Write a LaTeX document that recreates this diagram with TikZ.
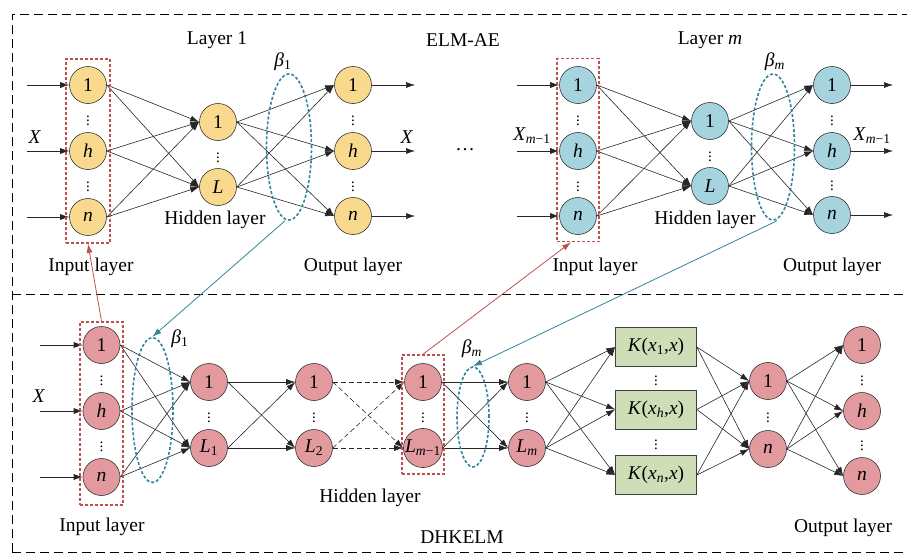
\documentclass[tikz,border=0pt]{standalone}
\usepackage{fontspec}
\setmainfont{Liberation Serif}
\usepackage{tikz}
\usetikzlibrary{arrows.meta,shapes.geometric}
\definecolor{yelfill}{HTML}{F8D98E}
\definecolor{blufill}{HTML}{A6D4DE}
\definecolor{pnkfill}{HTML}{E39A9F}
\definecolor{kfill}{HTML}{D0DEB8}
\definecolor{redd}{HTML}{C0504D}
\definecolor{teall}{HTML}{31859C}
\newcommand{\itl}[1]{\textit{#1}}
\tikzset{
	every node/.style={font=\fontsize{19.5}{22}\selectfont},
	neuron/.style={circle,draw=black!80,line width=0.6pt,minimum size=37pt,inner sep=0pt},
	yel/.style={neuron,fill=yelfill},
	blu/.style={neuron,fill=blufill},
	pnk/.style={neuron,fill=pnkfill},
	kbox/.style={draw=black!75,line width=0.6pt,fill=kfill,minimum width=81pt,minimum height=39pt,inner sep=0pt},
	conn/.style={-{Latex[length=9pt,width=6pt]},line width=0.6pt,draw=black!85},
	dconn/.style={conn,dash pattern=on 5pt off 3pt},
	redbox/.style={draw=redd,dash pattern=on 3pt off 2pt,line width=1.6pt,inner sep=0pt},
	ring/.style={ellipse,draw=teall,dash pattern=on 3pt off 2pt,line width=1.6pt,inner sep=0pt},
	frame/.style={dash pattern=on 9pt off 5pt,line width=1pt},
	vd/.style={font=\fontsize{15}{15}\selectfont,inner sep=0pt},
}

\begin{document}
\begin{tikzpicture}[x=1pt,y=-1pt]
\useasboundingbox (0,0) rectangle (907,554);
% frame
\draw[frame] (12,552) -- (12,14) -- (907,14);
\draw[frame] (12,294) -- (907,294);
\draw[frame] (12,552) -- (907,552);

% ELM-AE, layer 1
\node[yel] (a1) at (88,85) {1};
\node[yel] (ah) at (88,151) {\itl{h}};
\node[yel] (an) at (88,217) {\itl{n}};
\node[yel] (b1) at (218,122) {1};
\node[yel] (bL) at (218,187) {\itl{L}};
\node[yel] (c1) at (353,85) {1};
\node[yel] (ch) at (353,151) {\itl{h}};
\node[yel] (cn) at (353,216) {\itl{n}};
\node[vd] (va1) at (88,118) {$\vdots$};
\node[vd] (va2) at (88,184) {$\vdots$};
\node[vd] (vb) at (218,155) {$\vdots$};
\node[vd] (vc1) at (353,118) {$\vdots$};
\node[vd] (vc2) at (353,184) {$\vdots$};
\coordinate (ia1) at (27,85);
\coordinate (iah) at (27,151);
\coordinate (ian) at (27,217);
\coordinate (oc1) at (415,85);
\coordinate (och) at (415,151);
\coordinate (ocn) at (415,216);
\draw[conn] (ia1) -- (a1.west); \draw[conn] (iah) -- (ah.west); \draw[conn] (ian) -- (an.west);
\draw[conn] (a1.east) -- (b1.west); \draw[conn] (a1.east) -- (bL.west);
\draw[conn] (ah.east) -- (b1.west); \draw[conn] (ah.east) -- (bL.west);
\draw[conn] (an.east) -- (b1.west); \draw[conn] (an.east) -- (bL.west);
\draw[conn] (b1.east) -- (c1.west); \draw[conn] (b1.east) -- (ch.west); \draw[conn] (b1.east) -- (cn.west);
\draw[conn] (bL.east) -- (c1.west); \draw[conn] (bL.east) -- (ch.west); \draw[conn] (bL.east) -- (cn.west);
\draw[conn] (c1.east) -- (oc1); \draw[conn] (ch.east) -- (och); \draw[conn] (cn.east) -- (ocn);
\node[redbox,minimum width=44pt,minimum height=184pt] (rA) at (88,151) {};
\node[ring,minimum width=45pt,minimum height=146pt] (eA) at (289,147) {};

% ELM-AE, layer m
\node[blu] (d1) at (578,85) {1};
\node[blu] (dh) at (578,151) {\itl{h}};
\node[blu] (dn) at (578,216) {\itl{n}};
\node[blu] (e1) at (710,121) {1};
\node[blu] (eL) at (710,186) {\itl{L}};
\node[blu] (f1) at (832,85) {1};
\node[blu] (fh) at (832,151) {\itl{h}};
\node[blu] (fn) at (832,215) {\itl{n}};
\node[vd] (vd1) at (578,118) {$\vdots$};
\node[vd] (vd2) at (578,184) {$\vdots$};
\node[vd] (ve) at (710,154) {$\vdots$};
\node[vd] (vf1) at (832,118) {$\vdots$};
\node[vd] (vf2) at (832,183) {$\vdots$};
\coordinate (id1) at (517,85);
\coordinate (idh) at (517,151);
\coordinate (idn) at (517,216);
\coordinate (of1) at (893,85);
\coordinate (ofh) at (893,151);
\coordinate (ofn) at (893,215);
\draw[conn] (id1) -- (d1.west); \draw[conn] (idh) -- (dh.west); \draw[conn] (idn) -- (dn.west);
\draw[conn] (d1.east) -- (e1.west); \draw[conn] (d1.east) -- (eL.west);
\draw[conn] (dh.east) -- (e1.west); \draw[conn] (dh.east) -- (eL.west);
\draw[conn] (dn.east) -- (e1.west); \draw[conn] (dn.east) -- (eL.west);
\draw[conn] (e1.east) -- (f1.west); \draw[conn] (e1.east) -- (fh.west); \draw[conn] (e1.east) -- (fn.west);
\draw[conn] (eL.east) -- (f1.west); \draw[conn] (eL.east) -- (fh.west); \draw[conn] (eL.east) -- (fn.west);
\draw[conn] (f1.east) -- (of1); \draw[conn] (fh.east) -- (ofh); \draw[conn] (fn.east) -- (ofn);
\node[redbox,minimum width=42pt,minimum height=183pt] (rB) at (578,150) {};
\node[ring,minimum width=43pt,minimum height=146pt] (eB) at (773,147) {};

% DHKELM
\node[pnk] (g1) at (101.5,345) {1};
\node[pnk] (gh) at (101.5,411) {\itl{h}};
\node[pnk] (gn) at (101.5,477) {\itl{n}};
\node[pnk] (p1) at (209,382) {1};
\node[pnk] (pL) at (209,448) {\itl{L}\textsubscript{1}};
\node[pnk] (q1) at (314,382) {1};
\node[pnk] (qL) at (314,448) {\itl{L}\textsubscript{2}};
\node[pnk] (r1) at (423,382) {1};
\node[pnk] (rL) at (423,448) {\itl{L}\textsubscript{\itl{m}−1}};
\node[pnk] (s1) at (527,382) {1};
\node[pnk] (sL) at (527,448) {\itl{L}\textsubscript{\itl{m}}};
\node[kbox] (k1) at (656,347) {\itl{K}(\itl{x}\textsubscript{1},\itl{x})};
\node[kbox] (kh) at (656,409.5) {\itl{K}(\itl{x}\textsubscript{\itl{h}},\itl{x})};
\node[kbox] (kn) at (656,475) {\itl{K}(\itl{x}\textsubscript{\itl{n}},\itl{x})};
\node[pnk] (t1) at (768,381) {1};
\node[pnk] (tn) at (768,449) {\itl{n}};
\node[pnk] (u1) at (862,345) {1};
\node[pnk] (uh) at (862,411) {\itl{h}};
\node[pnk] (un) at (862,476) {\itl{n}};
\node[vd] (vg1) at (101.5,378) {$\vdots$};
\node[vd] (vg2) at (101.5,444) {$\vdots$};
\node[vd] (vp) at (209,415) {$\vdots$};
\node[vd] (vq) at (314,415) {$\vdots$};
\node[vd] (vr) at (423,415) {$\vdots$};
\node[vd] (vs) at (527,415) {$\vdots$};
\node[vd] (vk1) at (656,378) {$\vdots$};
\node[vd] (vk2) at (656,442) {$\vdots$};
\node[vd] (vt) at (768,415) {$\vdots$};
\node[vd] (vu1) at (862,378) {$\vdots$};
\node[vd] (vu2) at (862,443) {$\vdots$};
\coordinate (ig1) at (40,345);
\coordinate (igh) at (40,411);
\coordinate (ign) at (40,477);
\draw[conn] (ig1) -- (g1.west); \draw[conn] (igh) -- (gh.west); \draw[conn] (ign) -- (gn.west);
\draw[conn] (g1.east) -- (p1.west); \draw[conn] (g1.east) -- (pL.west);
\draw[conn] (gh.east) -- (p1.west); \draw[conn] (gh.east) -- (pL.west);
\draw[conn] (gn.east) -- (p1.west); \draw[conn] (gn.east) -- (pL.west);
\draw[conn] (p1.east) -- (q1.west); \draw[conn] (p1.east) -- (qL.west);
\draw[conn] (pL.east) -- (q1.west); \draw[conn] (pL.east) -- (qL.west);
\draw[dconn] (q1.east) -- (r1.west); \draw[dconn] (q1.east) -- (rL.west);
\draw[dconn] (qL.east) -- (r1.west); \draw[dconn] (qL.east) -- (rL.west);
\draw[conn] (r1.east) -- (s1.west); \draw[conn] (r1.east) -- (sL.west);
\draw[conn] (rL.east) -- (s1.west); \draw[conn] (rL.east) -- (sL.west);
\draw[conn] (s1.east) -- (k1.west); \draw[conn] (s1.east) -- (kh.west); \draw[conn] (s1.east) -- (kn.west);
\draw[conn] (sL.east) -- (k1.west); \draw[conn] (sL.east) -- (kh.west); \draw[conn] (sL.east) -- (kn.west);
\draw[conn] (k1.east) -- (t1.west); \draw[conn] (k1.east) -- (tn.west);
\draw[conn] (kh.east) -- (t1.west); \draw[conn] (kh.east) -- (tn.west);
\draw[conn] (kn.east) -- (t1.west); \draw[conn] (kn.east) -- (tn.west);
\draw[conn] (t1.east) -- (u1.west); \draw[conn] (t1.east) -- (uh.west); \draw[conn] (t1.east) -- (un.west);
\draw[conn] (tn.east) -- (u1.west); \draw[conn] (tn.east) -- (uh.west); \draw[conn] (tn.east) -- (un.west);
\node[redbox,minimum width=43pt,minimum height=183pt] (rC) at (101.5,413.5) {};
\node[redbox,minimum width=42pt,minimum height=119pt] (rD) at (423,414.5) {};
\node[ring,minimum width=41pt,minimum height=145pt] (eC) at (152.5,410) {};
\node[ring,minimum width=32pt,minimum height=100pt] (eD) at (473,417) {};

% links between the two parts
\draw[-{Latex[length=9pt,width=6pt]},draw=redd,line width=0.8pt] (rC.north) -- (rA.south);
\draw[-{Latex[length=9pt,width=6pt]},draw=redd,line width=0.8pt] (rD.north) -- ([xshift=-7pt]rB.south);
\draw[-{Latex[length=9pt,width=6pt]},draw=teall,line width=0.8pt] ([xshift=-4pt]eA.south) -- (eC.north);
\draw[-{Latex[length=9pt,width=6pt]},draw=teall,line width=0.8pt] ([xshift=4pt]eB.south) -- (eD.north);

% labels
\node (lay1) at (217,40) {Layer 1};
\node (elmae) at (463,40) {ELM-AE};
\node (laym) at (710,40) {Layer \itl{m}};
\node (bt1) at (283,62) {\itl{β}\textsubscript{1}};
\node (btm) at (775,62) {\itl{β}\textsubscript{\itl{m}}};
\node (xa) at (35,137) {\itl{X}};
\node (xc) at (407,137) {\itl{X}};
\node (xd) at (532,136) {\itl{X}\textsubscript{\itl{m}−1}};
\node (xf) at (872,136) {\itl{X}\textsubscript{\itl{m}−1}};
\node (dots) at (465,150) {…};
\node (hidA) at (215,220) {Hidden layer};
\node (hidB) at (705,220) {Hidden layer};
\node (inA) at (91,267) {Input layer};
\node (inB) at (595,267) {Input layer};
\node (outA) at (353,267) {Output layer};
\node (outB) at (832,267) {Output layer};
\node (xg) at (39,396) {\itl{X}};
\node (bt1b) at (180,339) {\itl{β}\textsubscript{1}};
\node (btmb) at (472,349) {\itl{β}\textsubscript{\itl{m}}};
\node (hidC) at (370,498) {Hidden layer};
\node (inC) at (102,527) {Input layer};
\node (dhk) at (462,537) {DHKELM};
\node (outC) at (843,528) {Output layer};
\end{tikzpicture}
\end{document}
